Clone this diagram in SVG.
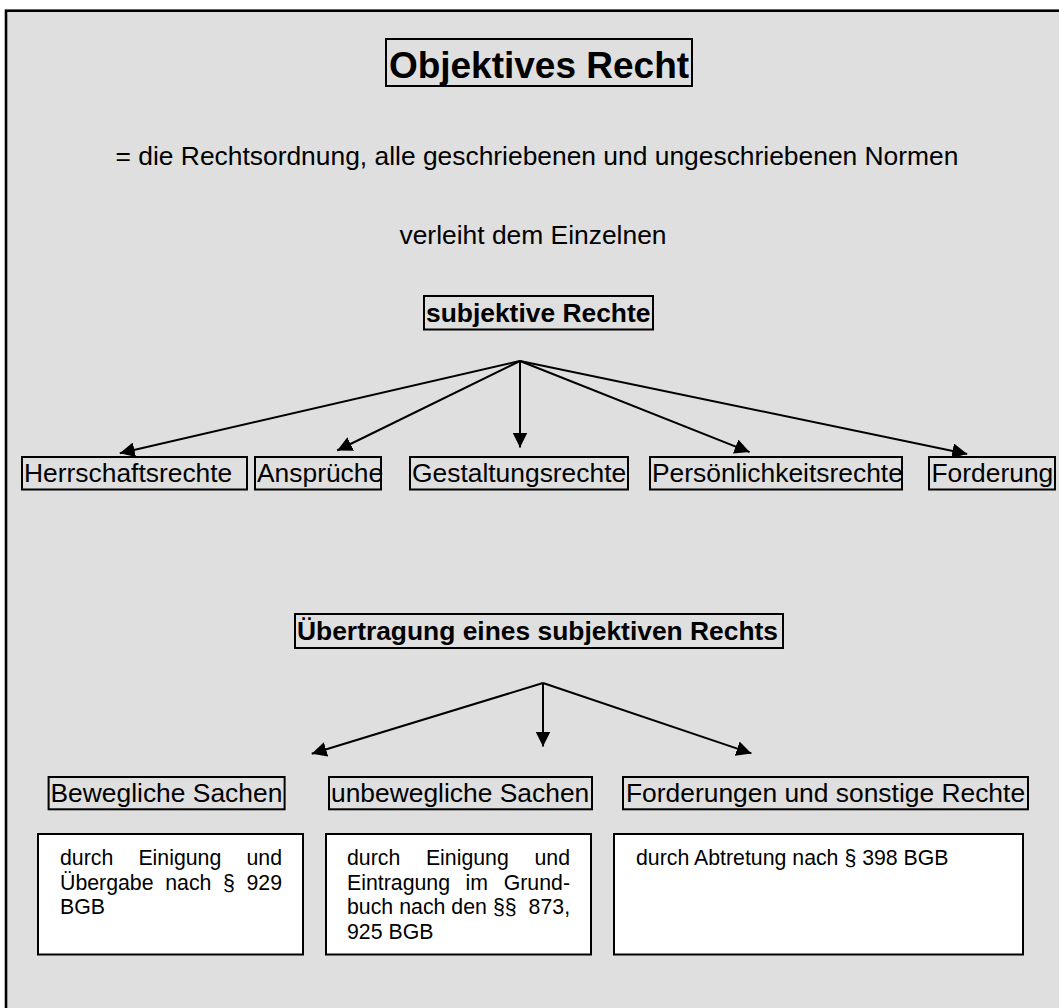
<svg xmlns="http://www.w3.org/2000/svg" width="1059" height="1008" viewBox="0 0 1059 1008">
<style>
text{font-family:"Liberation Sans",Arial,sans-serif;fill:#000}
.t{font-size:37px;font-weight:bold}
.p{font-size:26.4px}
.b{font-size:26.4px;font-weight:bold}
.s{font-size:21.3px}
.lb{fill:none;stroke:#000;stroke-width:2}
.wb{fill:#fff;stroke:#000;stroke-width:2}
.c{fill:none;stroke:#000;stroke-width:2}
</style>
<defs>
<marker id="ah" markerUnits="userSpaceOnUse" markerWidth="15" markerHeight="15" refX="15" refY="7.5" orient="auto" viewBox="0 0 15 15">
<path d="M0,0 L15,7.5 L0,15 z" fill="#000"/>
</marker>
</defs>
<rect x="0" y="0" width="1059" height="1008" fill="#fff"/>
<rect x="6" y="10.7" width="1100" height="1100" fill="#dfdfdf" stroke="#000" stroke-width="2.6"/>

<g id="title">
<rect class="lb" x="386" y="39" width="306" height="47"/>
<text class="t" x="539" y="77.5" text-anchor="middle">Objektives Recht</text>
</g>
<g id="definition">
<text class="p" x="537" y="165" text-anchor="middle">= die Rechtsordnung, alle geschriebenen und ungeschriebenen Normen</text>
</g>
<g id="verleiht">
<text class="p" x="533" y="244" text-anchor="middle">verleiht dem Einzelnen</text>
</g>
<g id="subjektive">
<rect class="lb" x="424" y="296" width="229" height="33.5"/>
<text class="b" x="426" y="322">subjektive Rechte</text>
</g>

<g id="herrschaftsrechte">
<rect class="lb" x="22" y="457" width="225" height="32.5"/>
<text class="p" x="24" y="482">Herrschaftsrechte</text>
</g>
<g id="ansprueche">
<rect class="lb" x="255" y="457" width="126" height="32.5"/>
<text class="p" x="257" y="482">Ansprüche</text>
</g>
<g id="gestaltungsrechte">
<rect class="lb" x="410" y="457" width="218" height="32.5"/>
<text class="p" x="412" y="482">Gestaltungsrechte</text>
</g>
<g id="persoenlichkeitsrechte">
<rect class="lb" x="650" y="457" width="252" height="32.5"/>
<text class="p" x="652" y="482">Persönlichkeitsrechte</text>
</g>
<g id="forderung">
<rect class="lb" x="929" y="457" width="126" height="32.5"/>
<text class="p" x="931.5" y="482">Forderung</text>
</g>

<g id="uebertragung">
<rect class="lb" x="295" y="614" width="488" height="34"/>
<text class="b" x="297" y="640">Übertragung eines subjektiven Rechts</text>
</g>

<g id="bewegliche">
<rect class="lb" x="48.6" y="777" width="236" height="32.3"/>
<text class="p" x="50.5" y="802">Bewegliche Sachen</text>
</g>
<g id="unbewegliche">
<rect class="lb" x="329" y="777" width="263" height="32.3"/>
<text class="p" x="331" y="802">unbewegliche Sachen</text>
</g>
<g id="forderungen">
<rect class="lb" x="623" y="777" width="405" height="32.3"/>
<text class="p" x="626" y="802">Forderungen und sonstige Rechte</text>
</g>

<g id="box-bewegliche">
<rect class="wb" x="38" y="834" width="265" height="120.5"/>
<text class="s" y="865"><tspan x="60">durch</tspan><tspan x="138.4">Einigung</tspan><tspan x="246.5">und</tspan></text>
<text class="s" y="889.5"><tspan x="60">Übergabe</tspan><tspan x="165.2">nach</tspan><tspan x="223">§</tspan><tspan x="246.5">929</tspan></text>
<text class="s" x="60" y="914">BGB</text>
</g>
<g id="box-unbewegliche">
<rect class="wb" x="326" y="834" width="265" height="120.5"/>
<text class="s" y="865"><tspan x="347">durch</tspan><tspan x="425.9">Einigung</tspan><tspan x="534.5">und</tspan></text>
<text class="s" y="889.5"><tspan x="347">Eintragung</tspan><tspan x="465.6">im</tspan><tspan x="503.7">Grund-</tspan></text>
<text class="s" y="914"><tspan x="347">buch</tspan><tspan x="399.2">nach</tspan><tspan x="451.3">den</tspan><tspan x="492.9">§§</tspan><tspan x="528.6">873,</tspan></text>
<text class="s" x="347" y="938.5">925 BGB</text>
</g>
<g id="box-forderungen">
<rect class="wb" x="614" y="834" width="409" height="120.5"/>
<text class="s" x="636" y="865">durch Abtretung nach § 398 BGB</text>
</g>

<g id="connectors">
<path class="c" d="M520,361 L119.8,453.2" marker-end="url(#ah)"/>
<path class="c" d="M520,361 L337.2,450.5" marker-end="url(#ah)"/>
<path class="c" d="M520,361 L520,447.5" marker-end="url(#ah)"/>
<path class="c" d="M520,361 L749.6,452.1" marker-end="url(#ah)"/>
<path class="c" d="M520,361 L967.2,453.9" marker-end="url(#ah)"/>
<path class="c" d="M543,683 L311.7,753.7" marker-end="url(#ah)"/>
<path class="c" d="M543,683 L543,746.5" marker-end="url(#ah)"/>
<path class="c" d="M543,683 L751.4,753.4" marker-end="url(#ah)"/>
</g>
</svg>
